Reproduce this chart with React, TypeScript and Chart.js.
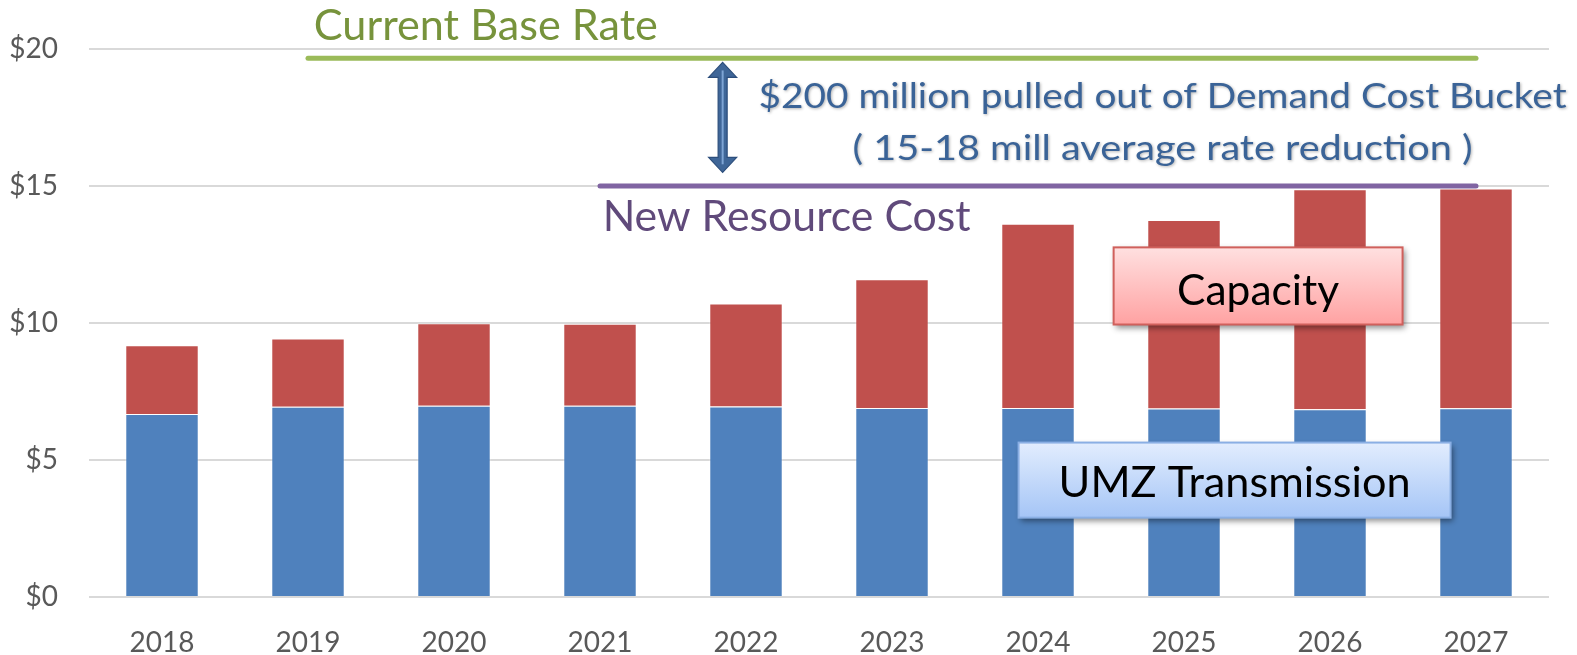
import React, { useEffect, useRef } from 'react';
import { Chart, registerables } from 'chart.js';

Chart.register(...registerables);

// ---------- data ----------
const years = ['2018', '2019', '2020', '2021', '2022', '2023', '2024', '2025', '2026', '2027'];
const umzTransmission = [6.68, 6.94, 6.98, 6.98, 6.95, 6.9, 6.9, 6.88, 6.85, 6.89];
const capacity = [2.51, 2.49, 3.01, 2.99, 3.76, 4.7, 6.72, 6.88, 8.03, 8.02];
const currentBaseRate = [null, 19.66, 19.66, 19.66, 19.66, 19.66, 19.66, 19.66, 19.66, 19.66];
const newResourceCost = [null, null, null, 15.0, 15.0, 15.0, 15.0, 15.0, 15.0, 15.0];
const yTickValues = [0, 5, 10, 15, 20];

const FONT = 'Lato, "Noto Sans", sans-serif';

// annotation anchors in data space (x = category index, y = $ value)
const arrowAnchor = { x: 3.84, top: 19.51, bottom: 15.5 };
const boxes = [
  { x0: 6.518, x1: 8.497, y0: 12.76, y1: 9.945, top: '#FFE0E0', bottom: '#FFA2A2', border: '#D0605C' },
  { x0: 5.867, x1: 8.826, y0: 5.636, y1: 2.896, top: '#E2EDFE', bottom: '#A5C5F6', border: '#8AAFE4' },
];
const texts = [
  { text: 'Current Base Rate', x: 1.04, y: 20.34, size: 42, w: 344, color: '#77933C', align: 'left', shadow: false },
  { text: '$200 million pulled out of Demand Cost Bucket', x: 6.853, y: 17.83, size: 35, w: 808, color: '#3A6397', align: 'center', shadow: true },
  { text: '( 15-18 mill average rate reduction )', x: 6.853, y: 15.95, size: 35, w: 620, color: '#3A6397', align: 'center', shadow: true },
  { text: 'New Resource Cost', x: 3.018, y: 13.34, size: 42, w: 368, color: '#604A7B', align: 'left', shadow: false },
  { text: 'Capacity', x: 7.5075, y: 10.67, size: 42, w: 162, color: '#000000', align: 'center', shadow: false },
  { text: 'UMZ Transmission', x: 7.3465, y: 3.66, size: 42, w: 352, color: '#000000', align: 'center', shadow: false },
];

const annotationPlugin = {
  id: 'slideAnnotations',
  afterDatasetsDraw(chart: any) {
    const { ctx } = chart;
    const xs = chart.scales.x;
    const ys = chart.scales.y;
    const px = (v: number) => xs.getPixelForValue(v);
    const py = (v: number) => ys.getPixelForValue(v);

    // arrow
    {
      const cx = px(arrowAnchor.x);
      const t = py(arrowAnchor.top);
      const b = py(arrowAnchor.bottom);
      const hh = 15, hw = 14, sw = 4.5;
      ctx.save();
      ctx.beginPath();
      ctx.moveTo(cx, t);
      ctx.lineTo(cx + hw, t + hh);
      ctx.lineTo(cx + sw, t + hh);
      ctx.lineTo(cx + sw, b - hh);
      ctx.lineTo(cx + hw, b - hh);
      ctx.lineTo(cx, b);
      ctx.lineTo(cx - hw, b - hh);
      ctx.lineTo(cx - sw, b - hh);
      ctx.lineTo(cx - sw, t + hh);
      ctx.lineTo(cx - hw, t + hh);
      ctx.closePath();
      ctx.fillStyle = '#3F6698';
      ctx.fill();
      ctx.strokeStyle = '#2C4E7C';
      ctx.lineWidth = 1.2;
      ctx.stroke();
      ctx.beginPath();
      ctx.moveTo(cx, t + 8);
      ctx.lineTo(cx, b - 8);
      ctx.strokeStyle = '#7EA4D4';
      ctx.lineWidth = 2;
      ctx.stroke();
      ctx.restore();
    }

    // boxes
    for (const bx of boxes) {
      const l = px(bx.x0), r = px(bx.x1), t = py(bx.y0), b = py(bx.y1);
      ctx.save();
      const g = ctx.createLinearGradient(0, t, 0, b);
      g.addColorStop(0, bx.top);
      g.addColorStop(1, bx.bottom);
      ctx.shadowColor = 'rgba(0,0,0,0.45)';
      ctx.shadowBlur = 6;
      ctx.shadowOffsetX = 2;
      ctx.shadowOffsetY = 3;
      ctx.fillStyle = g;
      ctx.fillRect(l, t, r - l, b - t);
      ctx.shadowColor = 'transparent';
      ctx.strokeStyle = bx.border;
      ctx.lineWidth = 2;
      ctx.strokeRect(l, t, r - l, b - t);
      ctx.restore();
    }

    // texts
    for (const tx of texts) {
      ctx.save();
      ctx.font = `${tx.size}px ${FONT}`;
      const natural = ctx.measureText(tx.text).width;
      const sx = tx.w / natural;
      ctx.translate(px(tx.x), py(tx.y));
      ctx.scale(sx, 1);
      ctx.textAlign = tx.align;
      ctx.textBaseline = 'alphabetic';
      if (tx.shadow) {
        ctx.shadowColor = 'rgba(0,0,0,0.3)';
        ctx.shadowBlur = 3;
        ctx.shadowOffsetX = 1;
        ctx.shadowOffsetY = 1;
      }
      ctx.fillStyle = tx.color;
      ctx.fillText(tx.text, 0, 0);
      ctx.restore();
    }
  },
};

export default function App() {
  const ref = useRef<HTMLCanvasElement | null>(null);

  useEffect(() => {
    if (!ref.current) return;
    const chart = new Chart(ref.current, {
      type: 'bar',
      data: {
        labels: years,
        datasets: [
          {
            type: 'line',
            label: 'Current Base Rate',
            data: currentBaseRate,
            borderColor: '#9BBB59',
            borderWidth: 5,
            borderCapStyle: 'round',
            pointRadius: 0,
            stack: 'base',
            order: 0,
          } as any,
          {
            type: 'line',
            label: 'New Resource Cost',
            data: newResourceCost,
            borderColor: '#8064A2',
            borderWidth: 5,
            borderCapStyle: 'round',
            pointRadius: 0,
            stack: 'resource',
            order: 0,
          } as any,
          {
            label: 'UMZ Transmission',
            data: umzTransmission,
            backgroundColor: '#4F81BD',
            borderColor: 'rgba(255,255,255,0.35)',
            borderWidth: 1,
            stack: 'bars',
            order: 2,
          },
          {
            label: 'Capacity',
            data: capacity,
            backgroundColor: '#C0504D',
            borderColor: 'rgba(255,255,255,0.35)',
            borderWidth: 1,
            stack: 'bars',
            order: 2,
          },
        ],
      },
      options: {
        responsive: false,
        animation: false,
        layout: { padding: { left: 0, right: 28, top: 49, bottom: 0 } },
        plugins: { legend: { display: false }, tooltip: { enabled: false } },
        datasets: { bar: { categoryPercentage: 1, barPercentage: 0.503 } },
        scales: {
          x: {
            stacked: true,
            grid: { display: false },
            border: { display: false },
            ticks: { color: '#595959', font: { family: FONT, size: 28 }, padding: 21 },
            afterFit: (s: any) => { s.height = 58; },
          },
          y: {
            stacked: true,
            min: 0,
            max: 20,
            afterBuildTicks: (s: any) => { s.ticks = yTickValues.map((v) => ({ value: v })); },
            grid: { color: '#D9D9D9', lineWidth: 2, drawTicks: false },
            border: { display: false },
            ticks: {
              color: '#595959',
              font: { family: FONT, size: 28 },
              padding: 31,
              callback: (v: any) => `$${v}`,
            },
            afterFit: (s: any) => { s.width = 89; },
          },
        },
      } as any,
      plugins: [annotationPlugin],
    });
    return () => chart.destroy();
  }, []);

  return (
    <div style={{ position: 'absolute', left: 0, top: 0, width: 1577, height: 655, background: '#fff' }}>
      <canvas ref={ref} width={1577} height={655} />
    </div>
  );
}
